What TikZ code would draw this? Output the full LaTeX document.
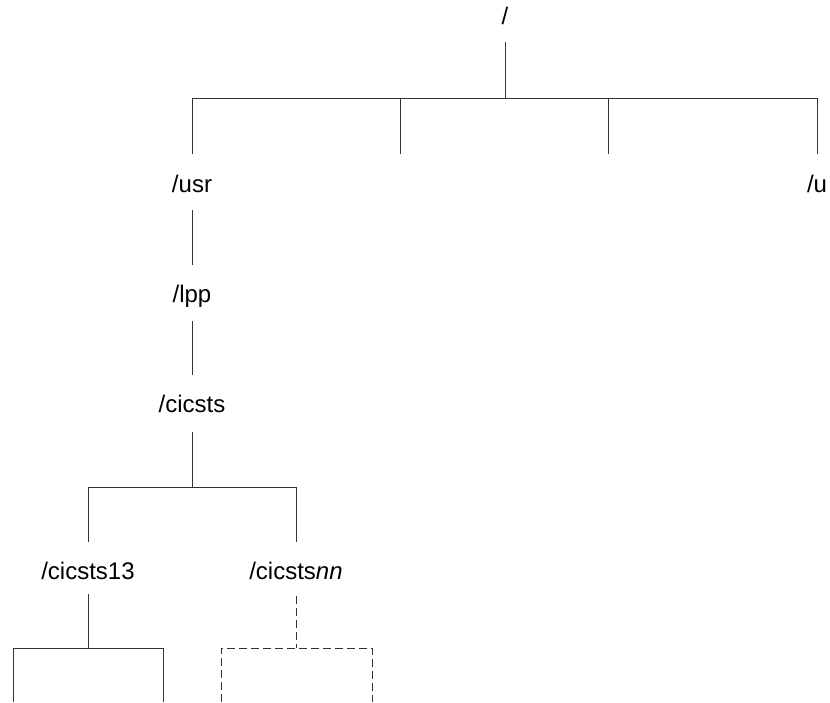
\documentclass[tikz,border=0pt]{standalone}
\usepackage{fontspec}
\setmainfont{Liberation Sans}
\begin{document}
\begin{tikzpicture}[x=0.5pt,y=-0.5pt,
  lbl/.style={font=\fontsize{12}{14}\selectfont, inner sep=0pt, anchor=base},
  tree/.style={line width=0.5pt, black!80},
  dsh/.style={tree, dash pattern=on 4pt off 2pt}]
\useasboundingbox (0,0) rectangle (830,702);
% labels
\node[lbl] (root) at (505,24) {/};
\node[lbl] (usr) at (192,192) {/usr};
\node[lbl] (u) at (817,192) {/u};
\node[lbl] (lpp) at (192,302) {/lpp};
\node[lbl] (cicsts) at (192,412) {/cicsts};
\node[lbl] (c13) at (88,579) {/cicsts13};
\node[lbl] (cnn) at (296,579) {/cicsts\textit{nn}};
% junction coordinates
\coordinate (r0) at (505,42);
\coordinate (r1) at (505,98);
\coordinate (a1) at (192,98);
\coordinate (a2) at (400,98);
\coordinate (a3) at (608,98);
\coordinate (a4) at (817,98);
\coordinate (b1) at (192,154);
\coordinate (b2) at (400,154);
\coordinate (b3) at (608,154);
\coordinate (b4) at (817,154);
\coordinate (u0) at (192,210);
\coordinate (u1) at (192,265);
\coordinate (l0) at (192,321);
\coordinate (l1) at (192,375);
\coordinate (c0) at (192,432);
\coordinate (c1) at (192,487);
\coordinate (d1) at (88,487);
\coordinate (d2) at (296,487);
\coordinate (e1) at (88,542);
\coordinate (e2) at (296,542);
\coordinate (f0) at (88,594);
\coordinate (f1) at (88,648);
\coordinate (g1) at (13,648);
\coordinate (g2) at (163,648);
\coordinate (h1) at (13,702);
\coordinate (h2) at (163,702);
\coordinate (n0) at (296,596);
\coordinate (n1) at (296,648);
\coordinate (m1) at (221,648);
\coordinate (m2) at (372,648);
\coordinate (k1) at (221,702);
\coordinate (k2) at (372,702);
% connectors
\draw[tree] (r0) -- (r1);
\draw[tree] (b1) -- (a1) -- (a4) -- (b4);
\draw[tree] (a2) -- (b2);
\draw[tree] (a3) -- (b3);
\draw[tree] (u0) -- (u1);
\draw[tree] (l0) -- (l1);
\draw[tree] (c0) -- (c1);
\draw[tree] (e1) -- (d1) -- (d2) -- (e2);
\draw[tree] (f0) -- (f1);
\draw[tree] (h1) -- (g1) -- (g2) -- (h2);
\draw[dsh] (n0) -- (n1);
\draw[dsh] (k1) -- (m1) -- (m2) -- (k2);
\end{tikzpicture}
\end{document}
